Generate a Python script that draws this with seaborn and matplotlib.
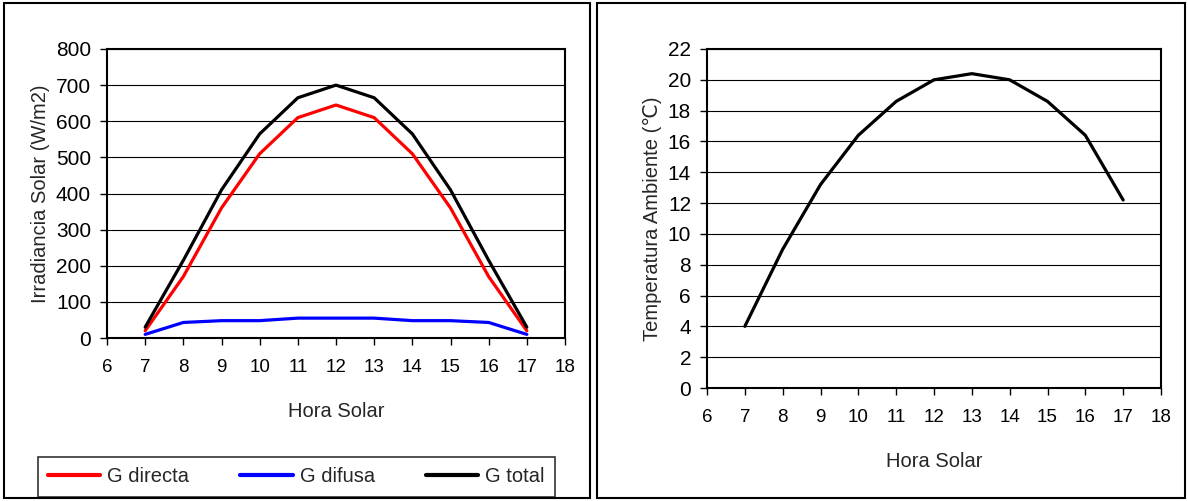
import numpy as np
import pandas as pd
import matplotlib
matplotlib.use("Agg")
import matplotlib.pyplot as plt
from matplotlib.patches import Rectangle
import seaborn as sns

# data
hora = [7, 8, 9, 10, 11, 12, 13, 14, 15, 16, 17]
g_directa = [20, 170, 360, 510, 610, 645, 610, 510, 360, 170, 20]
g_difusa = [10, 43, 48, 48, 55, 55, 55, 48, 48, 43, 10]
g_total = [30, 215, 410, 565, 665, 700, 665, 565, 410, 215, 30]
temp = [4, 9, 13.2, 16.4, 18.6, 20, 20.4, 20, 18.6, 16.4, 12.2]

series = ["G directa", "G difusa", "G total"]
colores = {"G directa": "#ff0000", "G difusa": "#0000ff", "G total": "#000000"}

df = pd.DataFrame({"Hora": hora * 3,
                   "G": g_directa + g_difusa + g_total,
                   "serie": [s for s in series for _ in hora]})
dft = pd.DataFrame({"Hora": hora, "T": temp})

sns.set_theme(style="white")
plt.rcParams['font.family'] = ['Liberation Sans', 'DejaVu Sans']
fs = 14.5

fig = plt.figure(figsize=(11.88, 5.01), dpi=100)

# chart area frames
for x0, w in [(4, 586), (597, 588)]:
    fig.patches.append(Rectangle((x0 / 1188, 3 / 501), w / 1188, 495 / 501,
                                 transform=fig.transFigure, fill=False,
                                 edgecolor="black", linewidth=1.5))

ax1 = fig.add_axes([107 / 1188, 1 - 338 / 501, 458 / 1188, 289 / 501])
ax2 = fig.add_axes([707 / 1188, 1 - 388 / 501, 454 / 1188, 339 / 501])

sns.lineplot(data=df, x="Hora", y="G", hue="serie", palette=colores,
             linewidth=2.3, ax=ax1, legend=False)
sns.lineplot(data=dft, x="Hora", y="T", color="black", linewidth=2.3,
             ax=ax2, legend=False)

for ax, ymax, ystep in [(ax1, 800, 100), (ax2, 22, 2)]:
    ax.set_xlim(6, 18)
    ax.set_ylim(0, ymax)
    ax.set_xticks(range(6, 19))
    ax.set_yticks(np.arange(0, ymax + ystep / 2, ystep))
    ax.yaxis.grid(True, color="black", linewidth=0.8)
    ax.xaxis.grid(False)
    ax.set_axisbelow(True)
    for s in ax.spines.values():
        s.set_color("black")
        s.set_linewidth(1.5)
    ax.tick_params(axis="both", direction="out", length=5, width=1,
                   color="black", labelcolor="black", left=True, bottom=True)
    ax.tick_params(axis="x", pad=10, labelsize=13.5)
    ax.tick_params(axis="y", pad=6.5, labelsize=15)
    ax.set_xlabel("Hora Solar", fontsize=fs, labelpad=19)

ax1.set_ylabel("Irradiancia Solar (W/m2)", fontsize=fs, labelpad=4)
ax2.set_ylabel("Temperatura Ambiente (℃)", fontsize=fs, labelpad=4)

handles = [plt.Line2D([], [], color=colores[s], linewidth=3) for s in series]
leg = fig.legend(handles, series, loc="center", ncol=3, mode="expand",
                 bbox_to_anchor=(38 / 1188, 3 / 501, 517 / 1188, 42 / 501),
                 fancybox=False, frameon=True, edgecolor="black",
                 fontsize=fs, handlelength=2.6, handletextpad=0.35,
                 borderaxespad=0, borderpad=0.5)
leg.get_frame().set_linewidth(1.2)

fig.savefig("out.png", dpi=100)
